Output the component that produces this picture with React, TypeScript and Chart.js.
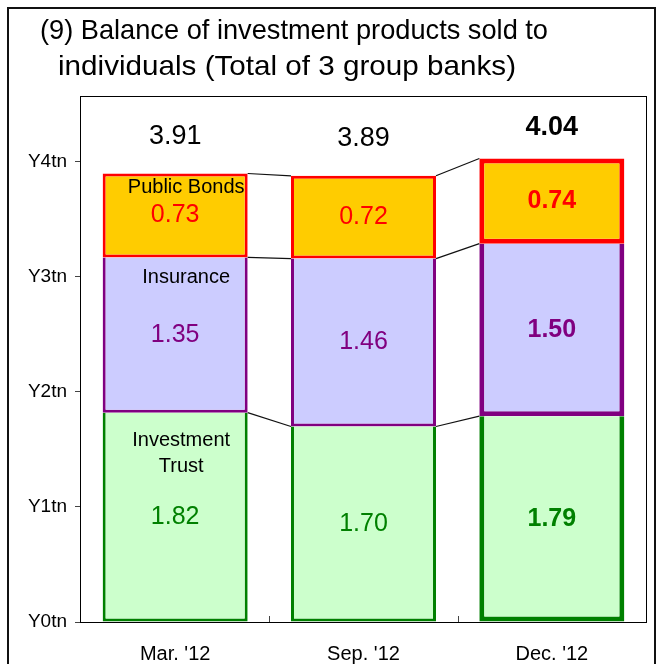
import React, { useEffect, useRef } from "react";
import { Chart, registerables } from "chart.js";

Chart.register(...registerables);

const categories = ["Mar. '12", "Sep. '12", "Dec. '12"];
const investmentTrust = [1.82, 1.7, 1.79];
const insurance = [1.35, 1.46, 1.5];
const publicBonds = [0.73, 0.72, 0.74];
const totals = [3.91, 3.89, 4.04];
const highlighted = [false, false, true];
const yTicks = [0, 1, 2, 3, 4];
const yTickLabels = ["Y0tn", "Y1tn", "Y2tn", "Y3tn", "Y4tn"];
const titleLines = [
  "(9) Balance of investment products sold to",
  "individuals (Total of 3 group banks)",
];
const seriesNames = [["Investment", "Trust"], ["Insurance"], ["Public Bonds"]];

const FONT = "'Liberation Sans', Arial, Helvetica, sans-serif";
const fills = ["#CCFFCC", "#CCCCFF", "#FFCC00"];
const borders = ["#008000", "#800080", "#FF0000"];

function fitText(ctx: CanvasRenderingContext2D, text: string, x: number, y: number, w: number) {
  const m = ctx.measureText(text).width;
  ctx.save();
  ctx.translate(x, y);
  ctx.scale(w / m, 1);
  ctx.fillText(text, 0, 0);
  ctx.restore();
}

const overlay = {
  id: "overlay",
  afterDatasetsDraw(chart: any) {
    const ctx = chart.ctx as CanvasRenderingContext2D;
    const { left, right, top, bottom } = chart.chartArea;
    const xs = chart.scales.x;
    ctx.save();

    // outer frame
    ctx.strokeStyle = "#111";
    ctx.lineWidth = 2;
    ctx.strokeRect(8, 8, 647, 700);

    // plot box
    ctx.lineWidth = 1;
    ctx.strokeStyle = "#000";
    ctx.strokeRect(left - 0.5, top - 0.5, right - left + 1, bottom - top + 1);

    // inner x ticks at category boundaries
    ctx.strokeStyle = "#444";
    for (let i = 0; i < categories.length - 1; i++) {
      const x = Math.round((xs.getPixelForValue(i) + xs.getPixelForValue(i + 1)) / 2) + 0.5;
      ctx.beginPath();
      ctx.moveTo(x, bottom);
      ctx.lineTo(x, bottom - 6);
      ctx.stroke();
    }

    // connector lines
    ctx.strokeStyle = "#111";
    ctx.lineWidth = 1.2;
    chart.data.datasets.forEach((_: any, di: number) => {
      const meta = chart.getDatasetMeta(di);
      for (let i = 0; i < meta.data.length - 1; i++) {
        const a = meta.data[i].getProps(["x", "y", "width"], true);
        const b = meta.data[i + 1].getProps(["x", "y", "width"], true);
        ctx.beginPath();
        ctx.moveTo(a.x + a.width / 2, a.y);
        ctx.lineTo(b.x - b.width / 2, b.y);
        ctx.stroke();
      }
    });

    // values inside segments
    ctx.textAlign = "center";
    ctx.textBaseline = "middle";
    chart.data.datasets.forEach((ds: any, di: number) => {
      const meta = chart.getDatasetMeta(di);
      meta.data.forEach((el: any, i: number) => {
        const p = el.getProps(["x", "y", "base"], true);
        ctx.fillStyle = borders[di];
        ctx.font = `${highlighted[i] ? "bold " : ""}25px ${FONT}`;
        ctx.fillText(ds.data[i].toFixed(2), p.x, (p.y + p.base) / 2);
      });
    });

    // series names on first bar
    const nameOffsets = [
      { dx: 6, dy: 28 },
      { dx: 11, dy: 20 },
      { dx: 11, dy: 14 },
    ];
    ctx.fillStyle = "#000";
    ctx.font = `20px ${FONT}`;
    seriesNames.forEach((lines, di) => {
      const el = chart.getDatasetMeta(di).data[0].getProps(["x", "y"], true);
      lines.forEach((ln, k) => {
        ctx.fillText(ln, el.x + nameOffsets[di].dx, el.y + nameOffsets[di].dy + k * 26);
      });
    });

    // totals above bars
    const topMeta = chart.getDatasetMeta(chart.data.datasets.length - 1);
    totals.forEach((t, i) => {
      const el = topMeta.data[i].getProps(["x", "y"], true);
      ctx.fillStyle = "#000";
      ctx.font = `${highlighted[i] ? "bold " : ""}27px ${FONT}`;
      ctx.fillText(t.toFixed(2), el.x, el.y - (highlighted[i] ? 31 : 37));
    });

    // title
    ctx.textAlign = "left";
    ctx.font = `28px ${FONT}`;
    ctx.fillStyle = "#000";
    fitText(ctx, titleLines[0], 40, 31, 508);
    fitText(ctx, titleLines[1], 58, 67, 458);

    ctx.restore();
  },
};

function makeDataset(label: string, data: number[], di: number, skipped: any) {
  return {
    label,
    data,
    backgroundColor: fills[di],
    borderColor: borders[di],
    borderWidth: (c: any) => (highlighted[c.dataIndex] ? 5 : 3),
    borderSkipped: skipped,
    stack: "s",
    barPercentage: 0.77,
    categoryPercentage: 1,
  };
}

export default function App() {
  const ref = useRef<HTMLCanvasElement>(null);
  useEffect(() => {
    const chart = new Chart(ref.current as HTMLCanvasElement, {
      type: "bar",
      data: {
        labels: categories,
        datasets: [
          makeDataset("Investment Trust", investmentTrust, 0, "top"),
          makeDataset("Insurance", insurance, 1, "top"),
          makeDataset("Public Bonds", publicBonds, 2, false),
        ] as any,
      },
      options: {
        responsive: false,
        animation: false,
        devicePixelRatio: 1,
        layout: { padding: { top: 97, right: 14, left: 0, bottom: 0 } },
        plugins: {
          legend: { display: false },
          tooltip: { enabled: false },
          title: { display: false },
        },
        scales: {
          x: {
            stacked: true,
            grid: { display: false, drawTicks: false },
            border: { display: false },
            ticks: {
              color: "#000",
              font: { family: FONT, size: 20 },
              padding: 20,
            },
            afterFit: (s: any) => {
              s.height = 42;
            },
          },
          y: {
            stacked: true,
            min: 0,
            max: 4.565,
            afterBuildTicks: (s: any) => {
              s.ticks = yTicks.map((v) => ({ value: v }));
            },
            grid: {
              display: true,
              drawOnChartArea: false,
              drawTicks: true,
              tickLength: 6,
              color: "#444",
            },
            border: { display: false },
            ticks: {
              color: "#000",
              font: { family: FONT, size: 19 },
              padding: 8,
              callback: (v: any) => {
                const k = yTicks.indexOf(Number(v));
                return k >= 0 ? yTickLabels[k] : "";
              },
            },
            afterFit: (s: any) => {
              s.width = 81;
            },
          },
        },
      },
      plugins: [overlay],
    } as any);
    return () => chart.destroy();
  }, []);
  return (
    <div style={{ position: "absolute", left: 0, top: 0, width: 660, height: 664, background: "#fff" }}>
      <canvas ref={ref} width={660} height={664} style={{ display: "block", width: 660, height: 664 }} />
    </div>
  );
}
